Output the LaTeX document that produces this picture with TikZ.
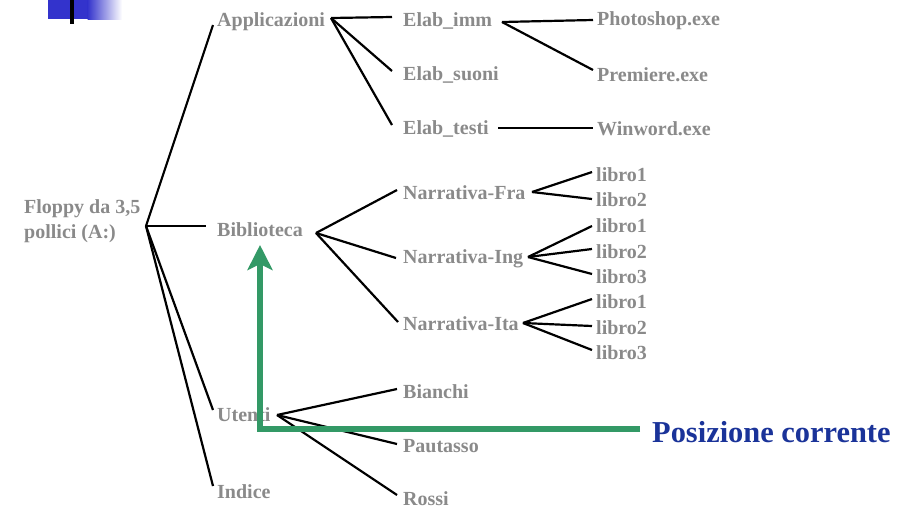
\documentclass[tikz,border=0pt]{standalone}
\usepackage{fontspec}
\setmainfont{Liberation Serif}
\usetikzlibrary{arrows.meta}
\definecolor{txtgray}{HTML}{8A8A8A}
\definecolor{pgreen}{HTML}{339966}
\definecolor{pblue}{HTML}{1A3399}
\definecolor{bblue}{HTML}{3333CC}
\begin{document}
\begin{tikzpicture}[x=1pt,y=-1pt,
  lbl/.style={font=\fontsize{20}{22}\selectfont\bfseries, text=txtgray, anchor=west, inner sep=0pt, yshift=-2pt},
  conn/.style={draw=black, line width=2.2pt},
  curpos/.style={draw=pgreen, line width=6pt}]
\useasboundingbox (0,0) rectangle (915,509);
% top-left decoration
\fill[bblue] (48,0) rectangle (88,19);
\shade[left color=bblue, right color=white] (87.5,0) rectangle (122,19);
\fill[black] (70,0) rectangle (74,24);
% labels
\node[lbl, align=left, font=\fontsize{20}{25}\selectfont\bfseries] (floppy) at (24,219) {Floppy da 3,5\\pollici (A:)};
\node[lbl] (app) at (217,20) {Applicazioni};
\node[lbl] (bib) at (217,228) {Biblioteca};
\node[lbl] (ute) at (217,413) {Utenti};
\node[lbl] (ind) at (217,490) {Indice};
\node[lbl] (eimm) at (403,19) {Elab\_imm};
\node[lbl] (esuo) at (403,73) {Elab\_suoni};
\node[lbl] (etes) at (403,127) {Elab\_testi};
\node[lbl] (ps) at (597,19) {Photoshop.exe};
\node[lbl] (pr) at (597,73) {Premiere.exe};
\node[lbl] (ww) at (597,127) {Winword.exe};
\node[lbl] (nfra) at (403,191) {Narrativa-Fra};
\node[lbl] (ning) at (403,257) {Narrativa-Ing};
\node[lbl] (nita) at (403,322) {Narrativa-Ita};
\node[lbl] (f1) at (596,173) {libro1};
\node[lbl] (f2) at (596,198) {libro2};
\node[lbl] (i1) at (596,224) {libro1};
\node[lbl] (i2) at (596,250) {libro2};
\node[lbl] (i3) at (596,275) {libro3};
\node[lbl] (t1) at (596,300) {libro1};
\node[lbl] (t2) at (596,326) {libro2};
\node[lbl] (t3) at (596,351) {libro3};
\node[lbl] (bia) at (403,390) {Bianchi};
\node[lbl] (pau) at (403,444) {Pautasso};
\node[lbl] (ros) at (403,497) {Rossi};
\node[font=\fontsize{30.4}{32}\selectfont\bfseries, text=pblue, anchor=west, inner sep=0pt] (cur) at (652,432) {Posizione corrente};
% hubs
\coordinate (hF) at (146,226);
\coordinate (hA) at (331,18);
\coordinate (hB) at (316,233);
\coordinate (hU) at (277,415);
\coordinate (hEI) at (502,22);
\coordinate (hET) at (498,128);
\coordinate (hNF) at (532,192);
\coordinate (hNI) at (528,257);
\coordinate (hNT) at (523,323);
% connectors
\draw[conn] (hF) -- (213,25);
\draw[conn] (hF) -- (206,226);
\draw[conn] (hF) -- (213,410);
\draw[conn] (hF) -- (213,486);
\draw[conn] (hA) -- (392,17);
\draw[conn] (hA) -- (392,71);
\draw[conn] (hA) -- (392,125);
\draw[conn] (hEI) -- (593,20);
\draw[conn] (hEI) -- (593,70);
\draw[conn] (hET) -- (593,128);
\draw[conn] (hB) -- (397,190);
\draw[conn] (hB) -- (396,258);
\draw[conn] (hB) -- (398,322);
\draw[conn] (hNF) -- (592,172);
\draw[conn] (hNF) -- (592,199);
\draw[conn] (hNI) -- (592,226);
\draw[conn] (hNI) -- (592,249);
\draw[conn] (hNI) -- (592,274);
\draw[conn] (hNT) -- (592,299);
\draw[conn] (hNT) -- (592,326);
\draw[conn] (hNT) -- (592,350);
\draw[conn] (hU) -- (397,389);
\draw[conn] (hU) -- (397,444);
\draw[conn] (hU) -- (397,495);
% current position marker
\coordinate (gtip) at (260,245);
\coordinate (gstart) at (640,429);
\draw[curpos, -{Stealth[length=25pt, width=25pt, inset=6pt]}] (gstart) -| (gtip);
\end{tikzpicture}
\end{document}
